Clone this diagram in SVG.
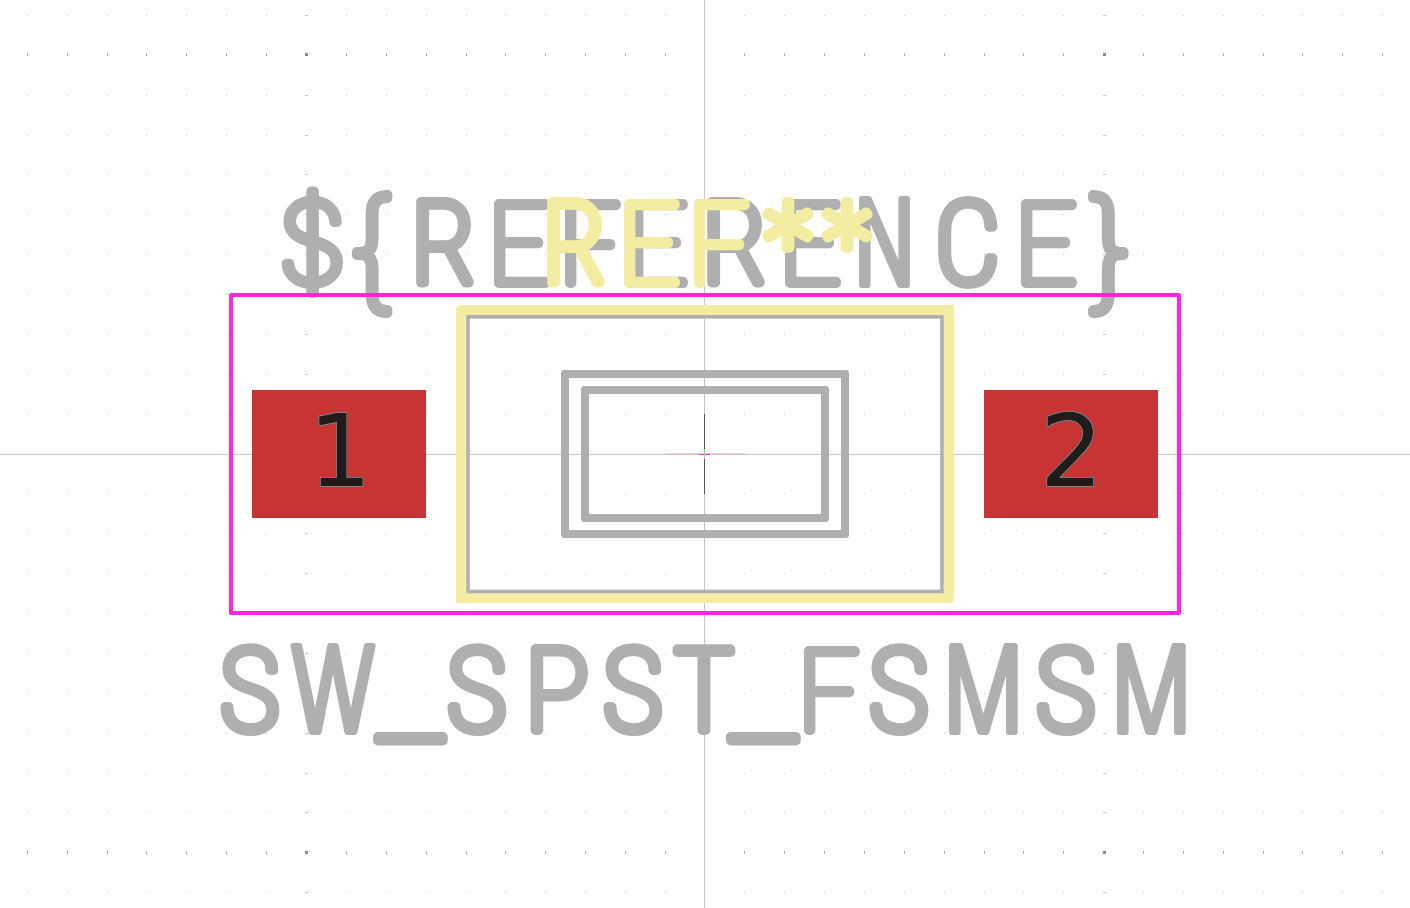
<svg xmlns="http://www.w3.org/2000/svg" xmlns:xlink="http://www.w3.org/1999/xlink" width="1410" height="908" viewBox="0 0 1410 908">
<style>
.st{font-family:"Inter","Liberation Sans",sans-serif;font-weight:100;font-size:112px;stroke-width:10px;stroke-linejoin:round;stroke-linecap:round}
.g{fill:#afafaf;stroke:#afafaf}
.y{fill:#f2eda1;stroke:#f2eda1}
.b{font-family:"Roboto",sans-serif;font-stretch:75%;font-size:114px}
.c{font-family:"Open Sans",sans-serif;font-stretch:75%;font-weight:300;font-size:119px;stroke-width:6px}
.d{font-family:"Lato",sans-serif}
.e{font-size:130px}
.u{font-size:150px}
.pn{font-family:"DejaVu Sans",sans-serif;font-size:100px;fill:#231a1a;stroke:#45c8cc;stroke-width:1px;paint-order:stroke;text-anchor:middle}
</style>
<defs>
<path id="dots" fill="#c4c4c4" d="M27 0h1v1h-1zM67 0h1v1h-1zM107 0h1v1h-1zM146 0h1v1h-1zM186 0h1v1h-1zM226 0h1v1h-1zM266 0h1v1h-1zM346 0h1v1h-1zM386 0h1v1h-1zM426 0h1v1h-1zM466 0h1v1h-1zM505 0h1v1h-1zM545 0h1v1h-1zM585 0h1v1h-1zM625 0h1v1h-1zM665 0h1v1h-1zM744 0h1v1h-1zM784 0h1v1h-1zM824 0h1v1h-1zM864 0h1v1h-1zM904 0h1v1h-1zM944 0h1v1h-1zM984 0h1v1h-1zM1023 0h1v1h-1zM1063 0h1v1h-1zM1143 0h1v1h-1zM1183 0h1v1h-1zM1223 0h1v1h-1zM1263 0h1v1h-1zM1302 0h1v1h-1zM1342 0h1v1h-1zM1382 0h1v1h-1zM305 0h3v1h-3zM1103 0h3v1h-3z"/>
<path id="majors" fill="#adadad" d="M27-1h1v3h-1zM67-1h1v3h-1zM107-1h1v3h-1zM146-1h1v3h-1zM186-1h1v3h-1zM226-1h1v3h-1zM266-1h1v3h-1zM346-1h1v3h-1zM386-1h1v3h-1zM426-1h1v3h-1zM466-1h1v3h-1zM505-1h1v3h-1zM545-1h1v3h-1zM585-1h1v3h-1zM625-1h1v3h-1zM665-1h1v3h-1zM744-1h1v3h-1zM784-1h1v3h-1zM824-1h1v3h-1zM864-1h1v3h-1zM904-1h1v3h-1zM944-1h1v3h-1zM984-1h1v3h-1zM1023-1h1v3h-1zM1063-1h1v3h-1zM1143-1h1v3h-1zM1183-1h1v3h-1zM1223-1h1v3h-1zM1263-1h1v3h-1zM1302-1h1v3h-1zM1342-1h1v3h-1zM1382-1h1v3h-1z"/>
<path id="sq" fill="#8c8c8c" d="M305-1h3v3h-3zM1103-1h3v3h-3z"/>
</defs>
<rect width="1410" height="908" fill="#ffffff"/>
<g id="grid">
<use xlink:href="#dots" y="15"/><use xlink:href="#dots" y="95"/><use xlink:href="#dots" y="135"/><use xlink:href="#dots" y="174"/><use xlink:href="#dots" y="214"/><use xlink:href="#dots" y="254"/><use xlink:href="#dots" y="294"/><use xlink:href="#dots" y="334"/><use xlink:href="#dots" y="374"/><use xlink:href="#dots" y="414"/><use xlink:href="#dots" y="493"/><use xlink:href="#dots" y="533"/><use xlink:href="#dots" y="573"/><use xlink:href="#dots" y="613"/><use xlink:href="#dots" y="653"/><use xlink:href="#dots" y="693"/><use xlink:href="#dots" y="733"/><use xlink:href="#dots" y="773"/><use xlink:href="#dots" y="812"/><use xlink:href="#dots" y="892"/>
<use xlink:href="#majors" y="54"/><use xlink:href="#majors" y="852"/><use xlink:href="#sq" y="54"/><use xlink:href="#sq" y="852"/>
</g>
<g id="axes" fill="#c6c6c6"><rect x="704" y="0" width="1" height="908"/><rect x="0" y="454" width="1410" height="1"/></g>
<g id="value-text"><text class="st g" y="730"><tspan class="b" x="220">S</tspan><tspan class="c" x="293" y="732">W</tspan><tspan class="u" x="378" y="737">_</tspan><tspan class="b" x="447" y="730">S</tspan><tspan x="523">P</tspan><tspan class="b" x="603">S</tspan><tspan class="b" x="674">T</tspan><tspan class="u" x="731" y="737">_</tspan><tspan class="d" x="796" y="730">F</tspan><tspan class="b" x="869">S</tspan><tspan class="c" x="943" y="732">M</tspan><tspan class="b" x="1036" y="730">S</tspan><tspan class="c" x="1111" y="732">M</tspan></text></g>
<g id="reference-text"><text class="st g" y="283"><tspan x="278">$</tspan><tspan class="e" x="346" y="295">{</tspan><tspan class="b" x="411" y="283">R</tspan><tspan class="d" x="486">E</tspan><tspan class="d" x="557">F</tspan><tspan class="d" x="624">E</tspan><tspan class="b" x="702">R</tspan><tspan class="d" x="777">E</tspan><tspan class="c" x="853" y="285">N</tspan><tspan class="b" x="935" y="283">C</tspan><tspan class="d" x="1013">E</tspan><tspan class="e" x="1083" y="295">}</tspan></text></g>
<g id="outer-silk"><path fill="#f2eda1" fill-rule="evenodd" d="M459 305H954V600L951 603H456V308ZM466 315V593H944V315Z"/></g>
<g id="fab-rect"><rect x="468" y="316.8" width="474" height="274.7" fill="none" stroke="#afafaf" stroke-width="3.6"/></g>
<g id="body-outer"><path fill="#afafaf" fill-rule="evenodd" d="M563 370H847L849 372V536L847 538H563L561 536V372ZM569 378V530H841V378Z"/></g>
<g id="body-inner"><path fill="#afafaf" fill-rule="evenodd" d="M583 386H827L829 388V520L827 522H583L581 520V388ZM589 394V514H821V394Z"/></g>
<g id="ref-text"><text class="st y" y="283"><tspan class="b" x="542">R</tspan><tspan class="d" x="616">E</tspan><tspan class="d" x="686">F</tspan><tspan x="760">*</tspan><tspan x="819">*</tspan></text></g>
<g id="courtyard"><rect x="231" y="295" width="948" height="318" fill="none" stroke="#ff26e2" stroke-width="4" stroke-linejoin="round"/></g>
<g id="pad-1"><rect x="252" y="390" width="174" height="128" fill="#c83434"/><text class="pn" x="340" y="486">1</text></g>
<g id="pad-2"><rect x="984" y="390" width="174" height="128" fill="#c83434"/><text class="pn" x="1071.5" y="486">2</text></g>
<g id="anchor"><rect x="665" y="453" width="80" height="1" fill="#f6cfd5"/><rect x="704" y="414" width="1" height="80" fill="#555555"/><rect x="699" y="454" width="11" height="1" fill="#ff26e2"/><rect x="704" y="449" width="1" height="10" fill="#7fe07f"/></g>
</svg>
